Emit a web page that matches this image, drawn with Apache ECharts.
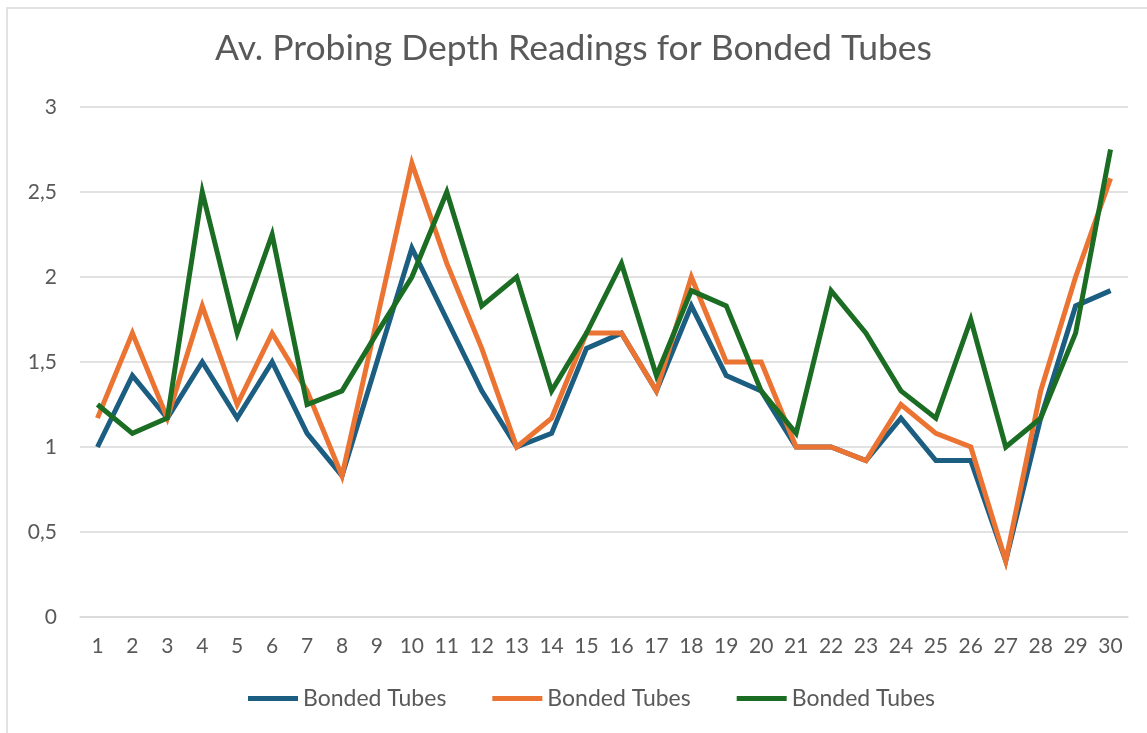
<!DOCTYPE html>
<html lang="en">
<head>
    <meta charset="UTF-8">
    <script src="https://cdn.jsdelivr.net/npm/echarts@6/dist/echarts.min.js"></script>
    <title>Av. Probing Depth Readings</title>
    <style>
        *{
            margin: 0;
            padding: 0;
        }
        body{
            background: #fff;
        }
        #chart{
            width: 1147px;
            height: 733px;
        }
    </style>
</head>
<body>
    <div id="chart"></div>
<script>
    // teeth 1..30
    var categories = ['1','2','3','4','5','6','7','8','9','10','11','12','13','14','15',
        '16','17','18','19','20','21','22','23','24','25','26','27','28','29','30'];
    // same label three times; zero-width spaces keep the legend entries apart
    var seriesNames = ['Bonded Tubes', 'Bonded Tubes\u200b', 'Bonded Tubes\u200b\u200b'];

    var blueValues = [1, 1.42, 1.17, 1.5, 1.17, 1.5, 1.08, 0.83, 1.5, 2.17,
        1.75, 1.33, 1, 1.08, 1.58, 1.67, 1.33, 1.83, 1.42, 1.33,
        1, 1, 0.92, 1.17, 0.92, 0.92, 0.33, 1.17, 1.83, 1.92];
    var orangeValues = [1.17, 1.67, 1.17, 1.83, 1.25, 1.67, 1.33, 0.83, 1.75, 2.67,
        2.08, 1.58, 1, 1.17, 1.67, 1.67, 1.33, 2, 1.5, 1.5,
        1, 1, 0.92, 1.25, 1.08, 1, 0.33, 1.33, 2, 2.58];
    var greenValues = [1.25, 1.08, 1.17, 2.5, 1.67, 2.25, 1.25, 1.33, 1.67, 2,
        2.5, 1.83, 2, 1.33, 1.67, 2.08, 1.42, 1.92, 1.83, 1.33,
        1.08, 1.92, 1.67, 1.33, 1.17, 1.75, 1, 1.17, 1.67, 2.75];

    var colors = ['#1b5e82', '#ec7433', '#1b6d24'];
    var font = 'Lato, "Open Sans", sans-serif';
    var textColor = '#595959';

    var chart = echarts.init(document.getElementById('chart'));

    function line(name, values, i) {
        return {
            name: name,
            type: 'line',
            data: values,
            showSymbol: false,
            symbol: 'none',
            lineStyle: { width: 5, color: colors[i], cap: 'butt', join: 'miter' },
            itemStyle: { color: colors[i] },
            z: 2 + i
        };
    }

    var option = {
        backgroundColor: '#fff',
        animation: false,
        //chart area border
        graphic: [{
            type: 'rect',
            shape: { x: 7, y: 8, width: 1160, height: 760 },
            style: { fill: 'none', stroke: '#d9d9d9', lineWidth: 1.5 },
            silent: true
        }],
        title: {
            text: 'Av. Probing Depth Readings for Bonded Tubes',
            left: 'center',
            top: 26,
            textStyle: {
                fontFamily: font,
                fontSize: 35.5,
                fontWeight: 'normal',
                color: textColor
            }
        },
        legend: {
            data: seriesNames,
            bottom: 18,
            left: 243,
            itemWidth: 50,
            itemHeight: 5,
            itemGap: 46,
            icon: 'rect',
            textStyle: { fontFamily: font, fontSize: 23, color: textColor }
        },
        grid: {
            left: 80,
            right: 19,
            top: 107,
            bottom: 116
        },
        xAxis: {
            type: 'category',
            data: categories,
            boundaryGap: true,
            axisLine: { show: true, lineStyle: { color: '#d9d9d9', width: 1.5 } },
            axisTick: { show: false },
            axisLabel: {
                interval: 0,
                margin: 19,
                fontFamily: font,
                fontSize: 21,
                color: textColor
            }
        },
        yAxis: {
            type: 'value',
            min: 0,
            max: 3,
            interval: 0.5,
            axisLine: { show: false },
            axisTick: { show: false },
            splitLine: { lineStyle: { color: '#d9d9d9', width: 1.5 } },
            axisLabel: {
                margin: 23,
                fontFamily: font,
                fontSize: 21,
                color: textColor,
                formatter: function (v) { return String(v).replace('.', ','); }
            }
        },
        series: [
            line(seriesNames[0], blueValues, 0),
            line(seriesNames[1], orangeValues, 1),
            line(seriesNames[2], greenValues, 2)
        ]
    };

    chart.setOption(option);
</script>
</body>
</html>
